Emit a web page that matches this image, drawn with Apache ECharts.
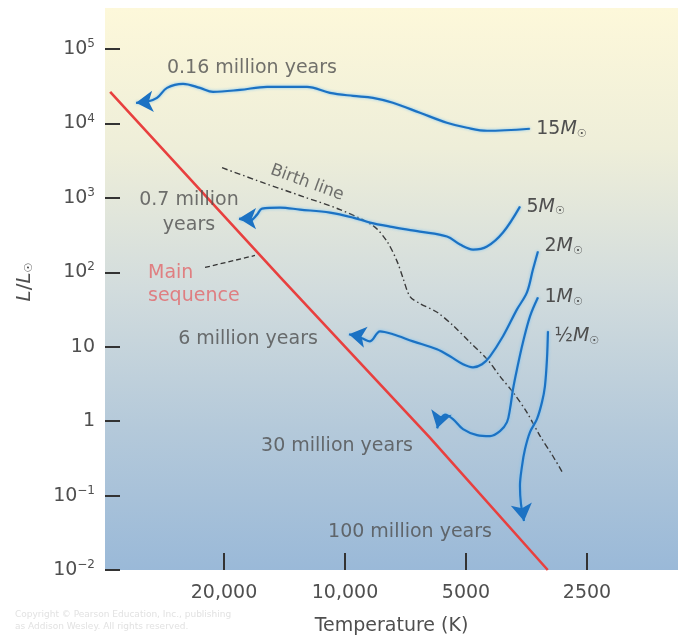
<!DOCTYPE html>
<html>
<head>
<meta charset="utf-8">
<script src="https://cdn.jsdelivr.net/npm/echarts@6/dist/echarts.min.js"></script>
<style>
  html, body { margin: 0; padding: 0; background: #fff; }
  #chart { width: 678px; height: 643px; }
</style>
</head>
<body>
<div id="chart"></div>
<script>
var FONT = 'DejaVu Sans';
var TEXT = '#4f4f4f';
var BLUE = '#1c72c3';

// axis ticks
var tempTicks = [20000, 10000, 5000, 2500];
var lumTicks = [0.01, 0.1, 1, 10, 100, 1000, 10000, 100000];

// main sequence (T in K, L in solar units)
var msT = [38400, 14500, 6150, 3130];
var msL = [26500, 86, 0.6, 0.01];

// birth line
var birthT = [20230, 16000, 12720, 10290, 8520, 7860, 7420, 7170, 6890, 6510, 5900, 5390, 4890, 4430, 4115, 3820, 3530, 3270, 3040, 2885];
var birthL = [2540, 1600, 1040, 695, 424, 259, 140, 83, 47, 38, 29, 19.4, 11.5, 6.8, 4.0, 2.45, 1.32, 0.63, 0.34, 0.21];

// evolutionary tracks, from start to the arrow
var t15 = [3470, 4430, 4970, 5580, 6510, 7600, 8520, 9550, 10900, 12430, 15630, 18250, 21300, 22950, 25290, 27720, 29360, 31090, 33100];
var l15 = [8470, 7960, 8730, 10200, 13900, 18900, 22000, 23400, 25700, 31000, 31000, 28200, 26500, 30000, 34000, 30000, 22000, 19500, 18900];

var t5 = [3670, 4045, 4433, 4802, 5173, 5575, 6510, 7727, 8666, 9550, 10900, 12940, 14510, 16090, 16550, 17240, 18350];
var l5 = [762, 342, 222, 202, 236, 302, 352, 411, 465, 543, 633, 695, 739, 717, 595, 495, 526];

var t2 = [3311, 3407, 3526, 3733, 4045, 4357, 4561, 4802, 5086, 5480, 5904, 6772, 7595, 8182, 8666, 9073, 9772];
var l2 = [190, 109, 53.6, 31.7, 13.8, 7.43, 5.81, 5.29, 5.81, 7.43, 9.23, 11.8, 14.7, 16.1, 11.8, 12.96, 14.7];

var t1 = [3311, 3465, 3607, 3733, 3819, 3886, 3953, 4115, 4357, 4694, 5086, 5387, 5640, 5900];
var l1 = [45.9, 25.6, 11.45, 4.98, 2.69, 1.45, 0.969, 0.734, 0.63, 0.649, 0.781, 1.063, 1.22, 0.8];

var tHalf = [3126, 3144, 3181, 3235, 3330, 3465, 3565, 3627, 3670, 3649, 3586];
var lHalf = [16.1, 6.78, 2.94, 1.8, 1.063, 0.712, 0.421, 0.249, 0.1345, 0.0772, 0.0456];

var massNames = ['15', '5', '2', '1', '½'];

// age notes
var ageText = ['0.16 million years', '0.7 million\nyears', '6 million years', '30 million years', '100 million years'];
var ageT = [17040, 24440, 17430, 10470, 6890];
var ageL = [55640, 643, 12.6, 0.46, 0.0325];

// "Main sequence" note and its leader
var msNoteT = [30910];
var msNoteL = [67.6];
var leaderT = [22300, 16750];
var leaderL = [116, 168];

// "Birth line" note
var birthNoteT = [12430];
var birthNoteL = [1598];

function pairs(ts, ls) {
    return ts.map(function (t, i) { return [t, ls[i]]; });
}

var massRich = {
    n: { fontFamily: FONT, fontSize: 19, color: TEXT },
    m: { fontFamily: FONT, fontSize: 19, color: TEXT, fontStyle: 'italic' },
    s: { fontFamily: FONT, fontSize: 11, color: TEXT, padding: [10, 0, 0, 0] }
};

function track(ts, ls, mass, rot, offset) {
    var d = pairs(ts, ls);
    d[0] = {
        value: d[0],
        symbol: 'circle',
        symbolSize: 1,
        label: {
            show: true,
            position: 'right',
            distance: 6,
            offset: offset,
            formatter: '{n|' + mass + '}{m|M}{s|☉}',
            rich: massRich
        }
    };
    var n = d.length - 1;
    d[n] = { value: d[n], symbol: 'arrow', symbolSize: [16, 17], symbolRotate: rot };
    return {
        type: 'line',
        data: d,
        smooth: 0.35,
        symbol: 'none',
        showSymbol: true,
        itemStyle: { color: BLUE },
        lineStyle: { color: BLUE, width: 2.2, shadowColor: 'rgba(120,195,245,0.95)', shadowBlur: 3 },
        z: 4,
        silent: true
    };
}

var chart = echarts.init(document.getElementById('chart'));

var option = {
    animation: false,
    textStyle: { fontFamily: FONT },
    grid: {
        left: 105, right: 0, top: 8, bottom: 73,
        show: true, borderWidth: 0,
        backgroundColor: {
            type: 'linear', x: 0, y: 0, x2: 0, y2: 1,
            colorStops: [
                { offset: 0, color: '#fdf8da' },
                { offset: 0.25, color: '#eeeed9' },
                { offset: 0.5, color: '#d2dcdd' },
                { offset: 0.75, color: '#b4c9da' },
                { offset: 1, color: '#9ab9d8' }
            ]
        }
    },
    xAxis: {
        type: 'log',
        inverse: true,
        min: 1484,
        max: 39550,
        axisLine: { show: false },
        splitLine: { show: false },
        axisTick: { inside: true, length: 17, lineStyle: { color: '#333', width: 2 }, customValues: tempTicks },
        axisLabel: {
            customValues: tempTicks,
            margin: 14,
            fontSize: 19,
            color: TEXT,
            fontFamily: FONT,
            formatter: function (v) {
                v = Math.round(v);
                return v >= 10000 ? v.toLocaleString('en-US') : String(v);
            }
        },
        name: 'Temperature (K)',
        nameLocation: 'middle',
        nameGap: 47,
        nameTextStyle: { fontSize: 19, color: TEXT, fontFamily: FONT }
    },
    yAxis: {
        type: 'log',
        min: 0.01,
        max: 355000,
        axisLine: { show: false },
        splitLine: { show: false },
        axisTick: { inside: true, length: 15, lineStyle: { color: '#333', width: 2 }, customValues: lumTicks },
        axisLabel: {
            customValues: lumTicks,
            margin: 10,
            fontSize: 19,
            color: TEXT,
            fontFamily: FONT,
            formatter: function (v) {
                var e = Math.round(Math.log10(v));
                if (e === 0) return '1';
                if (e === 1) return '10';
                return '10{sup|' + (e < 0 ? '−' + (-e) : e) + '}';
            },
            rich: {
                sup: { fontSize: 12, color: TEXT, fontFamily: FONT, padding: [0, 0, 10, 0] }
            }
        },
        name: '{l|L}{n|/}{l|L}{s|☉}',
        nameLocation: 'middle',
        nameRotate: 90,
        nameGap: 70,
        nameTextStyle: {
            padding: [0, 0, 0, 14],
            rich: {
                l: { fontSize: 20, color: TEXT, fontFamily: FONT, fontStyle: 'italic' },
                n: { fontSize: 20, color: TEXT, fontFamily: FONT },
                s: { fontSize: 11, color: TEXT, fontFamily: FONT, padding: [10, 0, 0, 0] }
            }
        }
    },
    series: [
        {
            type: 'line',
            data: pairs(msT, msL),
            symbol: 'none',
            lineStyle: { color: '#e8403f', width: 2.6 },
            z: 3,
            silent: true
        },
        {
            type: 'line',
            data: pairs(birthT, birthL),
            smooth: 0.3,
            symbol: 'none',
            lineStyle: { color: '#3a3a3a', width: 1.4, type: [6, 3, 1.5, 3] },
            z: 2,
            silent: true
        },
        {
            type: 'line',
            data: pairs(leaderT, leaderL),
            symbol: 'none',
            lineStyle: { color: '#333', width: 1.3, type: [5, 3] },
            z: 2,
            silent: true
        },
        track(t15, l15, massNames[0], 95, [0, 0]),
        track(t5, l5, massNames[1], 90, [0, 0]),
        track(t2, l2, massNames[2], 80, [0, -5]),
        track(t1, l1, massNames[3], 165, [0, 0]),
        track(tHalf, lHalf, massNames[4], 189, [0, 5]),
        {
            type: 'scatter',
            symbolSize: 1,
            itemStyle: { color: 'rgba(0,0,0,0)' },
            silent: true,
            z: 5,
            data: ageT.map(function (t, i) {
                return { value: [t, ageL[i]], label: { formatter: ageText[i] } };
            }),
            label: {
                show: true,
                position: 'inside',
                fontFamily: FONT,
                fontSize: 19,
                lineHeight: 25,
                color: TEXT,
                align: 'center'
            }
        },
        {
            type: 'scatter',
            symbolSize: 1,
            itemStyle: { color: 'rgba(0,0,0,0)' },
            silent: true,
            z: 5,
            data: [{ value: [msNoteT[0], msNoteL[0]] }],
            label: {
                show: true,
                position: 'inside',
                formatter: 'Main\nsequence',
                fontFamily: FONT,
                fontSize: 19,
                lineHeight: 23,
                color: '#e2676a',
                align: 'left'
            }
        },
        {
            type: 'scatter',
            symbolSize: 1,
            itemStyle: { color: 'rgba(0,0,0,0)' },
            silent: true,
            z: 5,
            data: [{ value: [birthNoteT[0], birthNoteL[0]] }],
            label: {
                show: true,
                position: 'inside',
                formatter: 'Birth line',
                rotate: -20,
                fontFamily: FONT,
                fontSize: 17,
                color: TEXT
            }
        }
    ],
    graphic: [{
        type: 'text',
        left: 15,
        top: 609,
        silent: true,
        style: {
            text: 'Copyright © Pearson Education, Inc., publishing\nas Addison Wesley. All rights reserved.',
            fontSize: 9,
            lineHeight: 12,
            fill: '#e2e2e2',
            fontFamily: FONT
        }
    }]
};

chart.setOption(option);
</script>
</body>
</html>
